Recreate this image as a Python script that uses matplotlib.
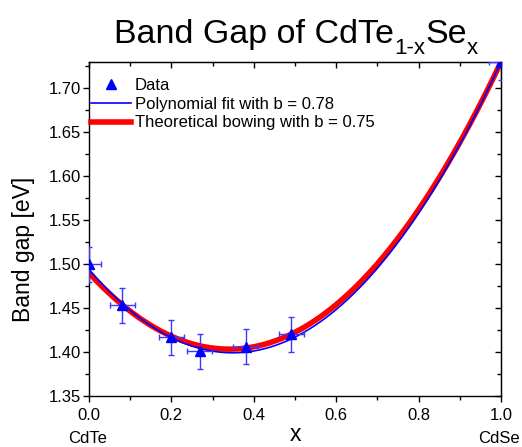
import numpy as np
import matplotlib.pyplot as plt
from matplotlib.ticker import MultipleLocator
from matplotlib.transforms import offset_copy

plt.rcParams['font.family'] = ['Liberation Sans', 'DejaVu Sans']

# measured band gaps
x_data = [0.0, 0.081, 0.20, 0.269, 0.38, 0.491, 1.0]
eg_data = [1.50, 1.453, 1.417, 1.401, 1.406, 1.420, 1.73]
x_err = [0.03, 0.03, 0.03, 0.03, 0.03, 0.03, 0.03]
eg_err = [0.02, 0.02, 0.02, 0.02, 0.02, 0.02, 0.02]

# bowing models: Eg(x) = (1-x) E0 + x E1 - b x (1-x)
fit_e0, fit_e1, fit_b = 1.494, 1.73, 0.78
theo_e0, theo_e1, theo_b = 1.49, 1.73, 0.75


def bowing(x, e0, e1, b):
    return (1 - x) * e0 + x * e1 - b * x * (1 - x)


xs = np.linspace(0, 1, 300)

W, H = 522, 447
fig = plt.figure(figsize=(W / 100, H / 100), dpi=100)
ax = fig.add_axes([89 / W, 1 - 396 / H, 412 / W, 334 / H])

ax.plot(xs, bowing(xs, theo_e0, theo_e1, theo_b), color='red', lw=4,
        label='Theoretical bowing with b = 0.75', zorder=2)
ax.plot(xs, bowing(xs, fit_e0, fit_e1, fit_b), color='blue', lw=1.2,
        label='Polynomial fit with b = 0.78', zorder=3)
ax.errorbar(x_data, eg_data, xerr=x_err, yerr=eg_err, fmt='none',
            ecolor='#3a3aff', elinewidth=1, capsize=2.5, capthick=1, zorder=4)
ax.plot(x_data, eg_data, '^', color='blue', ms=7, ls='none', label='Data', zorder=5)

ax.set_xlim(0, 1)
ax.set_ylim(1.35, 1.73)
ax.xaxis.set_major_locator(MultipleLocator(0.2))
ax.xaxis.set_minor_locator(MultipleLocator(0.1))
ax.yaxis.set_major_locator(MultipleLocator(0.05))
ax.yaxis.set_minor_locator(MultipleLocator(0.025))
ax.xaxis.set_major_formatter(plt.FormatStrFormatter('%.1f'))
ax.yaxis.set_major_formatter(plt.FormatStrFormatter('%.2f'))

ax.tick_params(which='both', direction='out', top=False, right=False, labelsize=12, width=1)
ax.tick_params(which='major', length=4)
ax.tick_params(which='minor', length=3)
ax.tick_params(axis='x', pad=5)
ax.tick_params(axis='y', pad=2)
for s in ax.spines.values():
    s.set_linewidth(1)

# inward ticks on top and right edges
sec_x = ax.secondary_xaxis('top')
sec_x.xaxis.set_major_locator(MultipleLocator(0.2))
sec_x.xaxis.set_minor_locator(MultipleLocator(0.1))
sec_x.tick_params(which='both', direction='in', labeltop=False, width=1)
sec_x.tick_params(which='major', length=4)
sec_x.tick_params(which='minor', length=3)
sec_y = ax.secondary_yaxis('right')
sec_y.yaxis.set_major_locator(MultipleLocator(0.05))
sec_y.yaxis.set_minor_locator(MultipleLocator(0.025))
sec_y.tick_params(which='both', direction='in', labelright=False, width=1)
sec_y.tick_params(which='major', length=4)
sec_y.tick_params(which='minor', length=3)

ax.set_ylabel('Band gap [eV]', fontsize=16.5)
ax.yaxis.set_label_coords(-0.131, 0.44)
fig.text(295 / W, 1 - 441 / H, 'x', fontsize=16.5, ha='center', va='baseline')
fig.text(88 / W, 1 - 443 / H, 'CdTe', fontsize=12, ha='center', va='baseline')
fig.text(499 / W, 1 - 443 / H, 'CdSe', fontsize=12, ha='center', va='baseline')

# title with real subscripts, laid out piece by piece
pieces = [('Band Gap of CdTe', 24.5, 0), ('1-x', 16, -11), ('Se', 24.5, 0), ('x', 16, -11)]
renderer = fig.canvas.get_renderer()
base = fig.transFigure
texts = []
x_px = 0
for s, size, dy in pieces:
    t = fig.text(0, 1 - 43 / H, s, fontsize=size, va='baseline', ha='left',
                 transform=offset_copy(base, fig=fig, x=x_px, y=dy, units='dots'))
    x_px += t.get_window_extent(renderer).width
    texts.append(t)
shift = 296 - x_px / 2
for t in texts:
    t.set_transform(offset_copy(t.get_transform(), fig=fig, x=shift, y=0, units='dots'))

h, l = ax.get_legend_handles_labels()
order = [2, 1, 0]
ax.legend([h[i] for i in order], [l[i] for i in order], loc='upper left',
          bbox_to_anchor=(0.006, 0.952), frameon=False, fontsize=12,
          handlelength=2.4, handletextpad=0.2, labelspacing=0.22,
          borderaxespad=0, borderpad=0)

fig.savefig('out.png', dpi=100)
